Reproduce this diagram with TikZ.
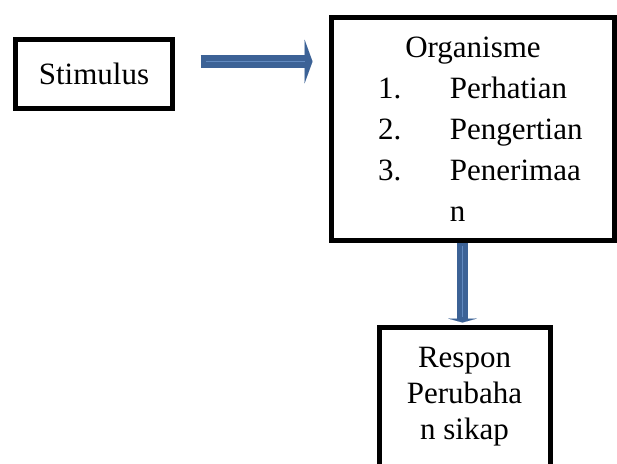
\documentclass[tikz,border=0pt]{standalone}
\usepackage{fontspec}
\setmainfont{Liberation Serif}
\usetikzlibrary{arrows.meta}

\definecolor{arrblue}{RGB}{60,98,150}
\definecolor{arrlight}{RGB}{98,138,192}

\newcommand{\butir}[2]{\makebox[95pt][l]{\makebox[36pt][l]{#1}#2}}

\tikzset{
  kotak/.style={draw,line width=2.5pt,inner sep=0pt,font=\fontsize{15.5}{20.5}\selectfont},
}

\begin{document}
\begin{tikzpicture}
  \useasboundingbox (0,0) rectangle (308.5pt,-231.5pt);
  \node[kotak,minimum width=78.5pt,minimum height=34.5pt] (stim) at (47pt,-37pt) {Stimulus};
  \node[kotak,minimum width=141.5pt,minimum height=111.5pt,align=left] (org) at (236.5pt,-64.5pt)
    {\makebox[95pt]{Organisme}\\ \butir{1.}{Perhatian}\\ \butir{2.}{Pengertian}\\
     \butir{3.}{Penerimaa}\\ \butir{}{n}};
  \node[kotak,minimum width=85.5pt,minimum height=69.5pt,align=center,
        font=\fontsize{15.5}{18}\selectfont] (resp) at (232.25pt,-198.25pt) {Respon\\Perubaha\\n sikap};

  \coordinate (a) at ([yshift=6.25pt]stim.east);
  \coordinate (b) at ([xshift=-5.25pt]org.south);
  \path[arrblue]
    (a) edge[-{Triangle[length=4pt,width=22pt,line width=0.01pt]},line width=6.5pt,
             shorten <=12.75pt,shorten >=8.25pt] (a -| org.west)
    (b) edge[-{Triangle[length=2pt,width=14.5pt,line width=0.01pt]},line width=5.5pt,
             shorten >=1pt] (b |- resp.north);
  % garis terang di tengah panah
  \path[arrlight,line width=0.6pt]
    (a) edge[shorten <=15.25pt,shorten >=12.25pt] (a -| org.west)
    (b) edge[shorten <=1.5pt,shorten >=4pt] (b |- resp.north);
\end{tikzpicture}
\end{document}
